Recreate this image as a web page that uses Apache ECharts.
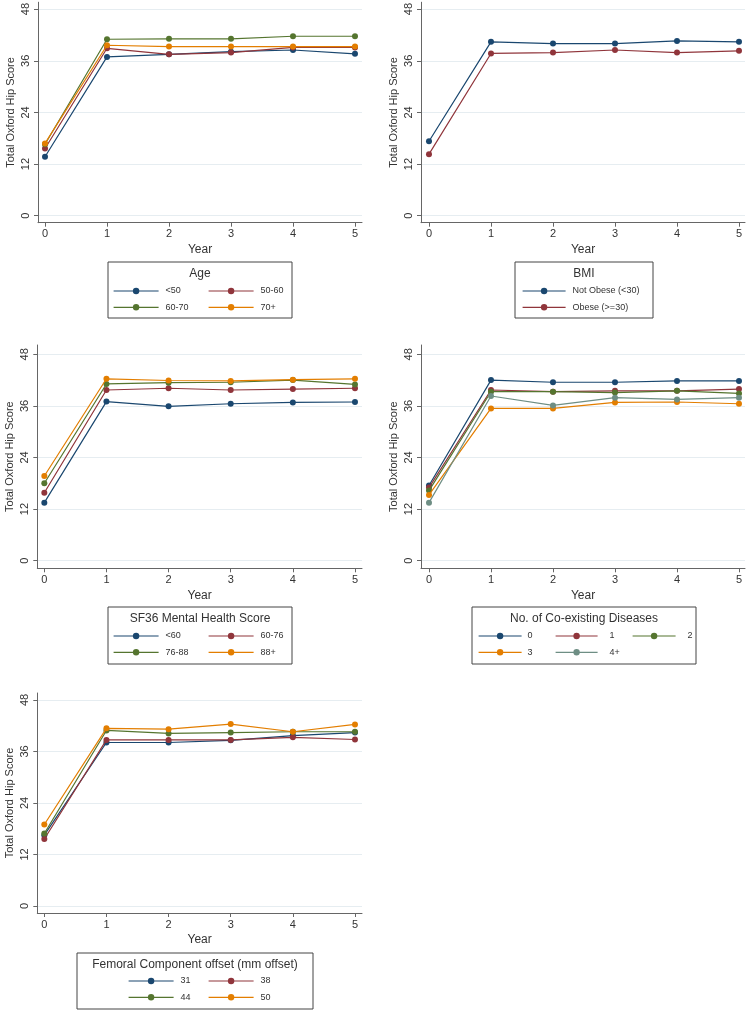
<!DOCTYPE html>
<html>
<head>
<meta charset="utf-8">
<script src="https://cdn.jsdelivr.net/npm/echarts@6/dist/echarts.min.js"></script>
<style>html,body{margin:0;padding:0;background:#fff}#c{width:750px;height:1011px}</style>
</head>
<body>
<div id="c"></div>
<script>
// ---------- data ----------
const years = [0, 1, 2, 3, 4, 5];
const yTicks = [0, 12, 24, 36, 48];

const ageNames = ['<50', '50-60', '60-70', '70+'];
const age_lt50  = [13.7, 36.9, 37.5, 38.1, 38.5, 37.6];
const age_50_60 = [15.6, 38.9, 37.5, 37.9, 39.1, 39.1];
const age_60_70 = [16.6, 41.0, 41.1, 41.1, 41.7, 41.7];
const age_70p   = [16.8, 39.6, 39.3, 39.3, 39.3, 39.3];

const bmiNames = ['Not Obese (<30)', 'Obese (>=30)'];
const bmi_notObese = [17.3, 40.4, 40.0, 40.0, 40.6, 40.4];
const bmi_obese    = [14.3, 37.7, 37.9, 38.5, 37.9, 38.3];

const mhNames = ['<60', '60-76', '76-88', '88+'];
const mh_lt60  = [13.5, 37.0, 35.9, 36.5, 36.8, 36.9];
const mh_60_76 = [15.8, 39.7, 40.1, 39.7, 39.9, 40.1];
const mh_76_88 = [18.0, 41.1, 41.4, 41.5, 42.0, 41.0];
const mh_88p   = [19.7, 42.3, 41.9, 41.8, 42.1, 42.3];

const disNames = ['0', '1', '2', '3', '4+'];
const dis_0  = [17.5, 42.0, 41.5, 41.5, 41.8, 41.8];
const dis_1  = [17.0, 39.7, 39.3, 39.5, 39.5, 39.9];
const dis_2  = [16.3, 39.3, 39.3, 39.1, 39.5, 38.9];
const dis_3  = [15.3, 35.4, 35.4, 36.8, 36.9, 36.5];
const dis_4p = [13.5, 38.3, 36.1, 37.9, 37.5, 37.9];

const femNames = ['31', '38', '44', '50'];
const fem_31 = [16.5, 38.1, 38.1, 38.6, 39.7, 40.4];
const fem_38 = [15.6, 38.7, 38.7, 38.7, 39.3, 38.8];
const fem_44 = [16.9, 40.9, 40.2, 40.4, 40.6, 40.6];
const fem_50 = [19.0, 41.4, 41.2, 42.4, 40.6, 42.3];

const legendTitles = ['Age', 'BMI', 'SF36 Mental Health Score', 'No. of Co-existing Diseases', 'Femoral Component offset (mm offset)'];

// ---------- styles ----------
const NAVY = '#1a476f', MAROON = '#90353b', GREEN = '#55752f', ORANGE = '#e37e00', TEAL = '#6e8e84';
const FONT = '"Liberation Sans", Arial, sans-serif';
const TXT = '#333';

const panels = [
  { grid: {left: 38, top: 2, width: 324, height: 220.7}, x: [-0.113, 5.113], y: [-1.63, 49.6],
    names: ageNames, values: [age_lt50, age_50_60, age_60_70, age_70p], colors: [NAVY, MAROON, GREEN, ORANGE] },
  { grid: {left: 421, top: 2, width: 324, height: 220.7}, x: [-0.129, 5.097], y: [-1.63, 49.6],
    names: bmiNames, values: [bmi_notObese, bmi_obese], colors: [NAVY, MAROON] },
  { grid: {left: 37.3, top: 345, width: 324.7, height: 223.3}, x: [-0.113, 5.113], y: [-1.77, 50.16],
    names: mhNames, values: [mh_lt60, mh_60_76, mh_76_88, mh_88p], colors: [NAVY, MAROON, GREEN, ORANGE] },
  { grid: {left: 421, top: 345, width: 324, height: 223.3}, x: [-0.129, 5.097], y: [-1.77, 50.16],
    names: disNames, values: [dis_0, dis_1, dis_2, dis_3, dis_4p], colors: [NAVY, MAROON, GREEN, ORANGE, TEAL] },
  { grid: {left: 37.3, top: 693, width: 324.7, height: 220}, x: [-0.113, 5.113], y: [-1.63, 49.63],
    names: femNames, values: [fem_31, fem_38, fem_44, fem_50], colors: [NAVY, MAROON, GREEN, ORANGE] }
];

// legend boxes: [x, y, w, h, titleCenterX, titleY]
const boxes = [
  [108, 262, 184, 56, 200, 274],
  [515, 262, 138, 56, 584, 274],
  [108, 607, 184, 57, 200, 619],
  [472, 607, 224, 57, 584, 619],
  [77, 953, 236, 56, 195, 965]
];
// legend columns: [left, firstRowCenterY, itemWidth, textPad, names]
const legendCols = [
  [113, 291, 45, 2, [ageNames[0], ageNames[2]]],
  [208, 291, 45, 2, [ageNames[1], ageNames[3]]],
  [522, 291, 43, 2, bmiNames],
  [113, 636, 45, 2, [mhNames[0], mhNames[2]]],
  [208, 636, 45, 2, [mhNames[1], mhNames[3]]],
  [478, 636, 43, 1, [disNames[0], disNames[3]]],
  [555, 636, 42, 7, [disNames[1], disNames[4]]],
  [632, 636, 43, 7, [disNames[2]]],
  [128, 981, 45, 2, [femNames[0], femNames[2]]],
  [208, 981, 45, 2, [femNames[1], femNames[3]]]
];

const grids = [], xAxes = [], yAxes = [], series = [];
panels.forEach((p, i) => {
  grids.push(p.grid);
  xAxes.push({
    type: 'value', gridIndex: i, min: p.x[0], max: p.x[1],
    name: 'Year', nameLocation: 'middle', nameGap: 21,
    nameTextStyle: {fontFamily: FONT, fontSize: 12, color: TXT},
    axisLine: {show: true, onZero: false, lineStyle: {color: '#666', width: 1}},
    axisTick: {show: true, length: 4, customValues: years, lineStyle: {color: '#666'}},
    axisLabel: {customValues: years, margin: 6, fontFamily: FONT, fontSize: 11, color: '#333'},
    splitLine: {show: false}
  });
  yAxes.push({
    type: 'value', gridIndex: i, min: p.y[0], max: p.y[1],
    name: 'Total Oxford Hip Score', nameLocation: 'middle', nameGap: 22,
    nameTextStyle: {fontFamily: FONT, fontSize: 11, color: TXT},
    axisLine: {show: true, onZero: false, lineStyle: {color: '#666', width: 1}},
    axisTick: {show: true, length: 4, customValues: yTicks, lineStyle: {color: '#666'}},
    axisLabel: {customValues: yTicks, rotate: 90, margin: 7, fontFamily: FONT, fontSize: 11, color: '#333'},
    splitLine: {show: true, customValues: yTicks, lineStyle: {color: '#e6edf1', width: 1}}
  });
  p.values.forEach((vals, k) => {
    series.push({
      type: 'line', name: p.names[k], xAxisIndex: i, yAxisIndex: i,
      data: years.map((yr, j) => [yr, vals[j]]),
      symbol: 'circle', symbolSize: 6, showSymbol: true,
      lineStyle: {color: p.colors[k], width: 1.2},
      itemStyle: {color: p.colors[k]},
      emphasis: {disabled: true}, animation: false, z: 2 + k
    });
  });
});

const legends = legendCols.map(c => ({
  left: c[0], top: c[1] - 5, orient: 'vertical', padding: 0,
  itemWidth: c[2], itemHeight: 8, itemGap: 6.3,
  data: c[4], selectedMode: false,
  lineStyle: {width: 1.2},
  textStyle: {fontFamily: FONT, fontSize: 9, lineHeight: 10, color: TXT, padding: [0, 0, 0, c[3]]}
}));

const graphics = [];
boxes.forEach((b, i) => {
  graphics.push({type: 'rect', shape: {x: b[0], y: b[1], width: b[2], height: b[3]},
    style: {fill: '#fff', stroke: '#444', lineWidth: 1}, z: -1, silent: true});
  graphics.push({type: 'text', x: b[4], y: b[5],
    style: {text: legendTitles[i], fill: TXT, font: '12px ' + FONT, align: 'center', verticalAlign: 'middle'}, silent: true});
});

const chart = echarts.init(document.getElementById('c'));
chart.setOption({
  backgroundColor: '#fff',
  animation: false,
  grid: grids, xAxis: xAxes, yAxis: yAxes, series: series,
  legend: legends,
  graphic: graphics
});
</script>
</body>
</html>
